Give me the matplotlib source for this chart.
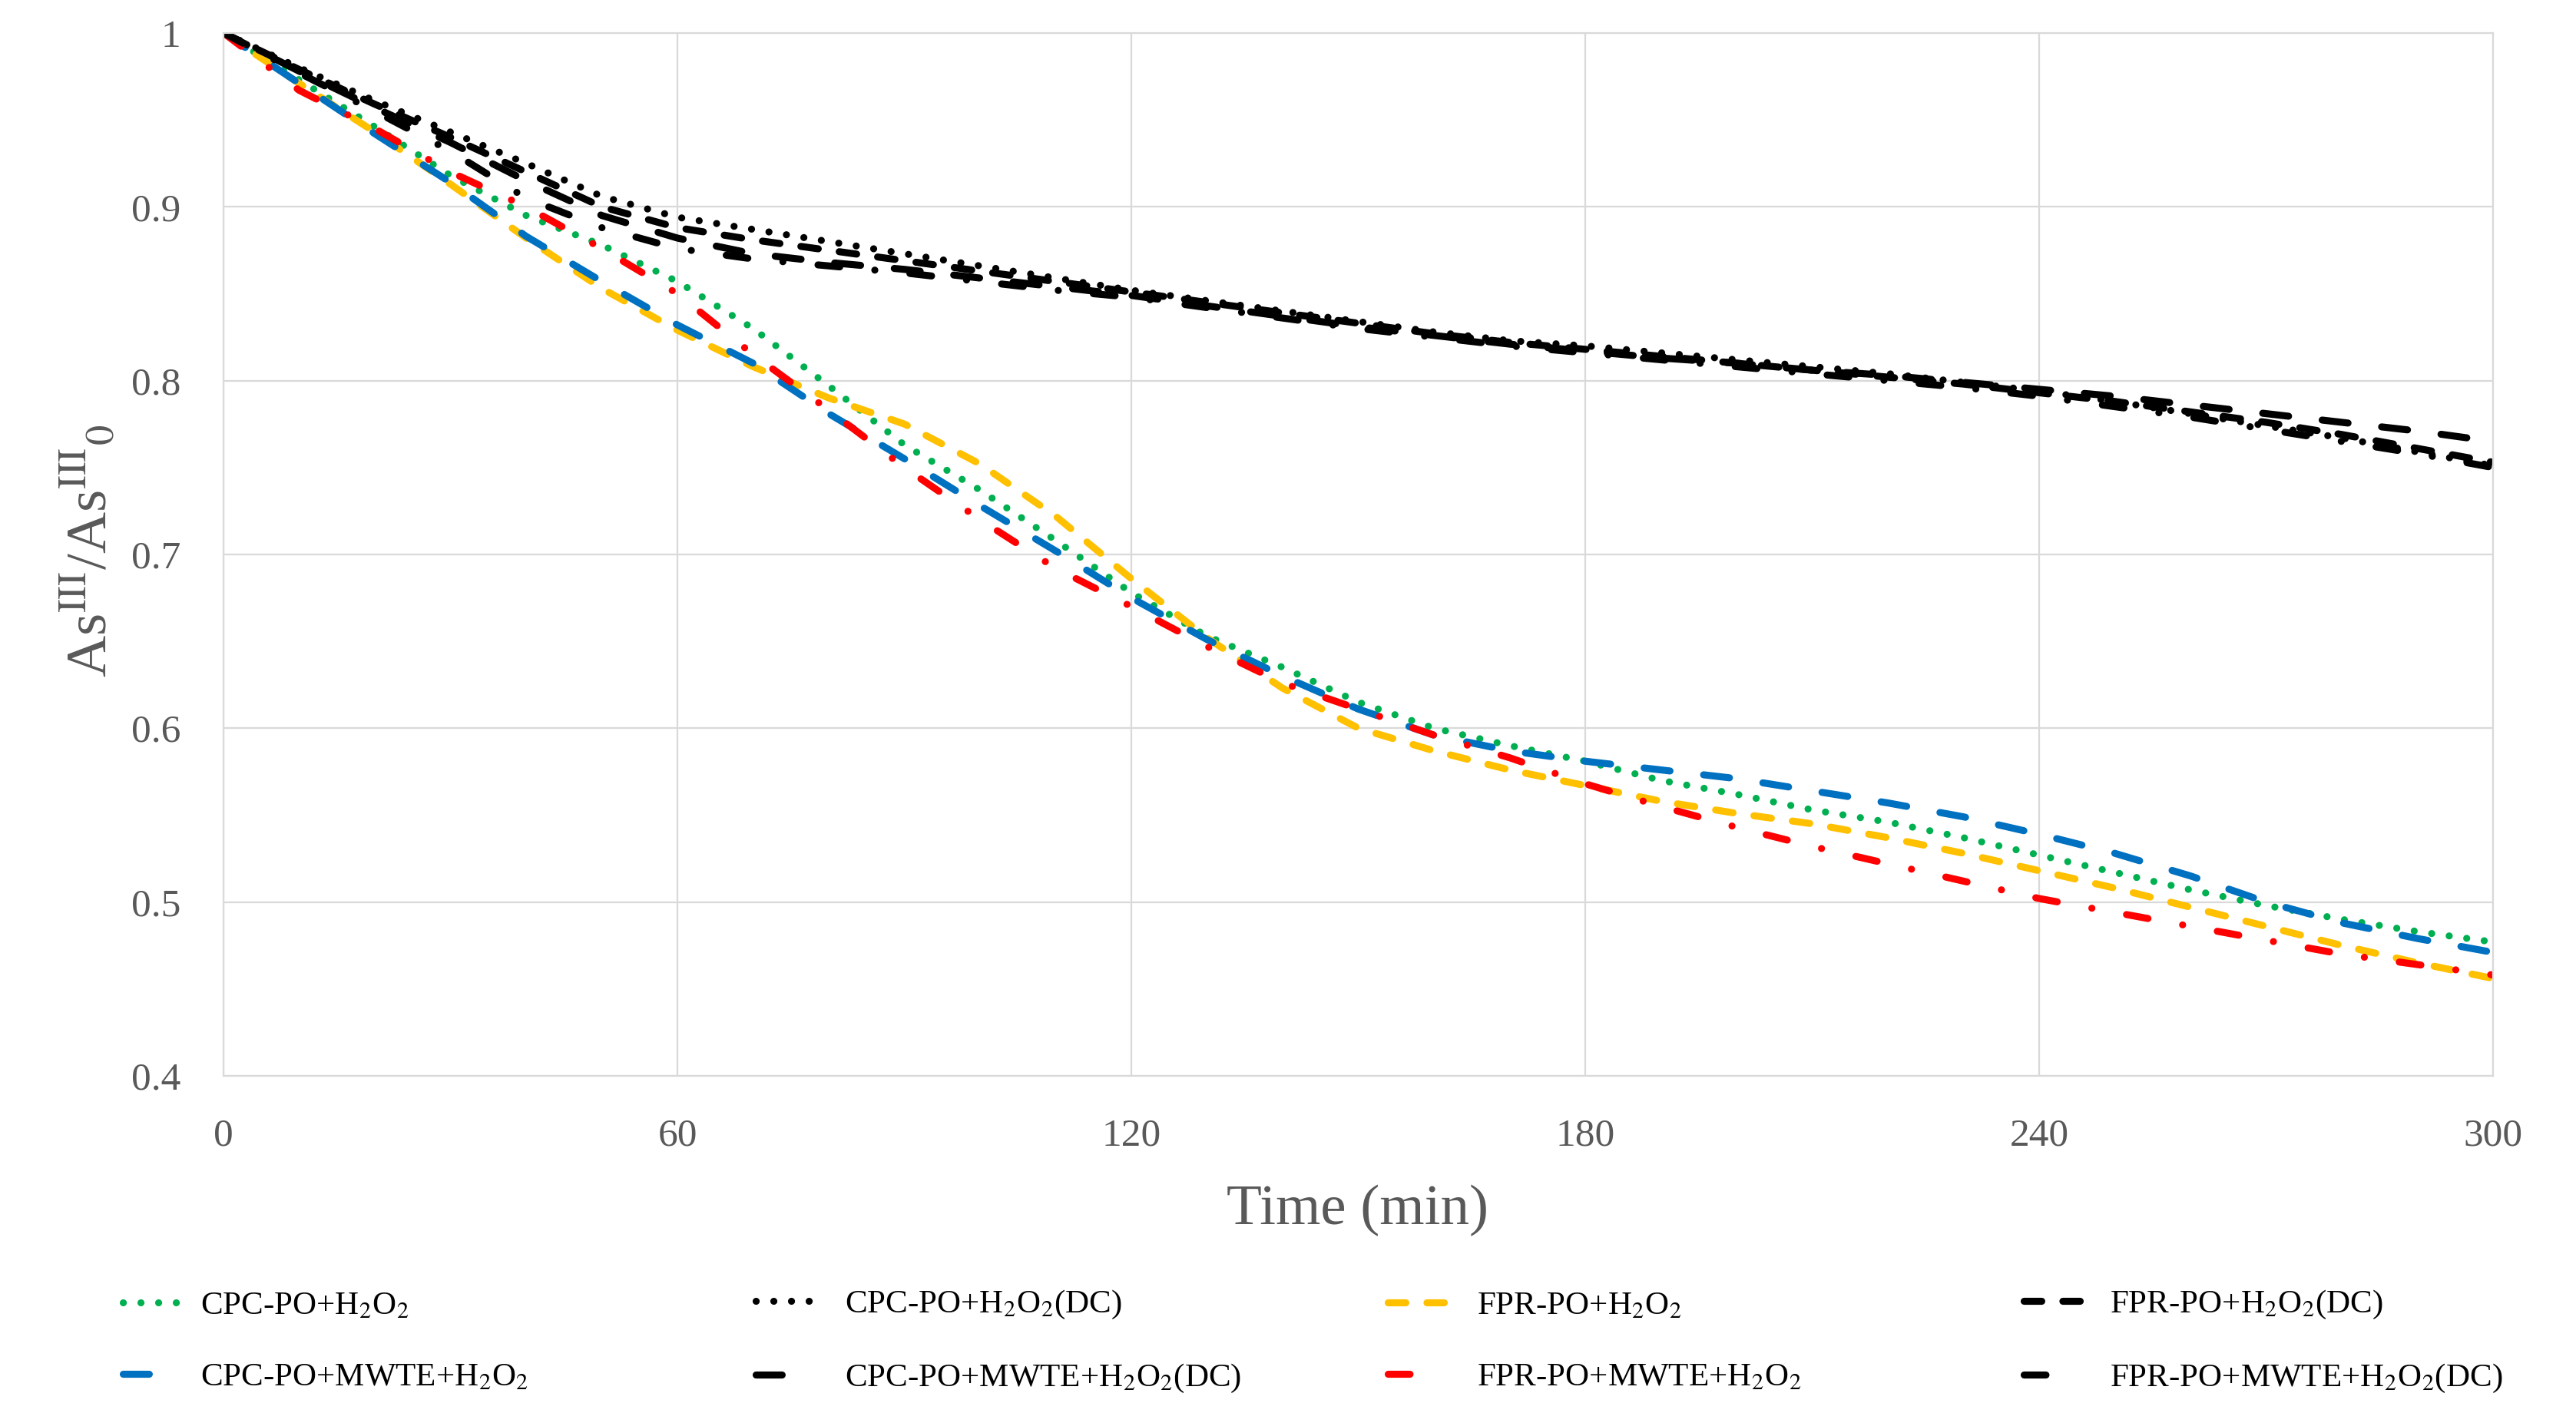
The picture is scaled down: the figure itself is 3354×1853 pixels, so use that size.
import matplotlib
matplotlib.use('Agg')
import matplotlib.pyplot as plt
from matplotlib.font_manager import FontProperties

# time axis (min)
time = list(range(0, 301, 10))

cpc_h2o2 = [1.0, 0.973, 0.946, 0.918, 0.895, 0.878, 0.857, 0.830, 0.797, 0.763, 0.737,
            0.708, 0.678, 0.653, 0.635, 0.615, 0.600, 0.590, 0.581, 0.570, 0.562,
            0.553, 0.546, 0.537, 0.527, 0.517, 0.507, 0.498, 0.490, 0.483, 0.477]
cpc_dc = [1.0, 0.980, 0.961, 0.943, 0.925, 0.906, 0.894, 0.887, 0.880, 0.873, 0.866,
          0.859, 0.852, 0.846, 0.840, 0.834, 0.828, 0.823, 0.820, 0.816, 0.812,
          0.808, 0.804, 0.799, 0.794, 0.788, 0.781, 0.774, 0.767, 0.759, 0.751]
fpr_h2o2 = [1.0, 0.971, 0.943, 0.913, 0.882, 0.853, 0.829, 0.808, 0.790, 0.775, 0.752,
            0.722, 0.686, 0.652, 0.623, 0.600, 0.587, 0.576, 0.567, 0.558, 0.551,
            0.545, 0.537, 0.528, 0.518, 0.508, 0.497, 0.486, 0.475, 0.465, 0.456]
fpr_dc = [1.0, 0.979, 0.959, 0.940, 0.920, 0.900, 0.888, 0.881, 0.875, 0.869, 0.863,
          0.857, 0.851, 0.845, 0.839, 0.833, 0.827, 0.822, 0.818, 0.814, 0.810,
          0.806, 0.802, 0.798, 0.793, 0.788, 0.782, 0.776, 0.769, 0.761, 0.753]
cpc_mwte = [1.0, 0.971, 0.942, 0.914, 0.883, 0.857, 0.832, 0.810, 0.781, 0.755, 0.728,
            0.702, 0.675, 0.651, 0.630, 0.611, 0.596, 0.587, 0.581, 0.576, 0.571,
            0.564, 0.557, 0.549, 0.539, 0.528, 0.515, 0.500, 0.488, 0.479, 0.471]
cpc_mwte_dc = [1.0, 0.978, 0.957, 0.937, 0.915, 0.895, 0.882, 0.873, 0.868, 0.864, 0.859,
               0.854, 0.849, 0.843, 0.837, 0.831, 0.826, 0.821, 0.817, 0.813, 0.810,
               0.806, 0.803, 0.799, 0.795, 0.791, 0.786, 0.781, 0.776, 0.771, 0.765]
fpr_mwte = [1.0, 0.967, 0.945, 0.920, 0.900, 0.876, 0.850, 0.815, 0.783, 0.750, 0.720,
            0.692, 0.670, 0.647, 0.626, 0.611, 0.596, 0.583, 0.568, 0.555, 0.543,
            0.532, 0.522, 0.512, 0.502, 0.494, 0.486, 0.478, 0.470, 0.464, 0.458]
fpr_mwte_dc = [1.0, 0.977, 0.955, 0.932, 0.905, 0.888, 0.876, 0.870, 0.866, 0.862, 0.857,
               0.852, 0.848, 0.842, 0.836, 0.830, 0.825, 0.820, 0.816, 0.812, 0.808,
               0.804, 0.800, 0.796, 0.791, 0.785, 0.779, 0.772, 0.765, 0.758, 0.750]

labels = [
    r'CPC-PO+H$_2$O$_2$',
    r'CPC-PO+H$_2$O$_2$(DC)',
    r'FPR-PO+H$_2$O$_2$',
    r'FPR-PO+H$_2$O$_2$(DC)',
    r'CPC-PO+MWTE+H$_2$O$_2$',
    r'CPC-PO+MWTE+H$_2$O$_2$(DC)',
    r'FPR-PO+MWTE+H$_2$O$_2$',
    r'FPR-PO+MWTE+H$_2$O$_2$(DC)',
]
series = [cpc_h2o2, cpc_dc, fpr_h2o2, fpr_dc, cpc_mwte, cpc_mwte_dc, fpr_mwte, fpr_mwte_dc]
colors = ['#00b050', 'black', '#ffc000', 'black', '#0070c0', 'black', '#ff0000', 'black']

DOT = (0, (0.01, 2.5))
DASH = (0, (2.5, 3.0))
LONG_DASH = (0, (3.7, 4.8))
LONG_DASH_DOT = (0, (3.1, 5.0, 0.01, 5.0))
styles = [DOT, DOT, DASH, DASH, LONG_DASH, LONG_DASH, LONG_DASH_DOT, LONG_DASH_DOT]

GRID = '#d9d9d9'
TXT = '#595959'
SERIF = 'Liberation Serif'

fig = plt.figure(figsize=(16.77, 9.265), dpi=200)
ax = fig.add_axes([0.0868, 0.244, 0.9678 - 0.0868, 0.9768 - 0.244])

lines = []
for y, c, ls, lab in zip(series, colors, styles, labels):
    ln, = ax.plot(time, y, color=c, linestyle=ls, lw=3.3,
                  dash_capstyle='round', label=lab)
    lines.append(ln)

ax.set_xlim(0, 300)
ax.set_ylim(0.4, 1.0)
ax.set_xticks(range(0, 301, 60))
ax.set_yticks([0.4, 0.5, 0.6, 0.7, 0.8, 0.9, 1.0])
ax.set_yticklabels(['0.4', '0.5', '0.6', '0.7', '0.8', '0.9', '1'])
ax.grid(True, color=GRID, lw=0.8)
ax.set_axisbelow(True)
for sp in ax.spines.values():
    sp.set_color(GRID)
    sp.set_linewidth(0.8)
ax.tick_params(length=0, labelsize=18.5, labelcolor=TXT, pad=20)
for t in ax.get_xticklabels() + ax.get_yticklabels():
    t.set_fontfamily(SERIF)

fig.text(0.527, 0.1495, 'Time (min)', ha='center', va='center',
         fontsize=27, color=TXT, family=SERIF)
fig.text(0.035, 0.613, r'As$^{\mathrm{III}}$/As$^{\mathrm{III}}{}_{0}$', rotation=90,
         ha='center', va='center', fontsize=27, color=TXT, family=SERIF,
         math_fontfamily='stix')

# legend: four columns of two entries, like the Excel layout
prop = FontProperties(family=SERIF, size=15.5, math_fontfamily='stix')
col_x = [160, 984, 1807, 2635]
text_pad = [0.64, 1.0, 1.0, 0.9]
pairs = [(0, 4), (1, 5), (2, 6), (3, 7)]
for x, pad, (i, j) in zip(col_x, text_pad, pairs):
    fig.legend([lines[i], lines[j]], [labels[i], labels[j]], prop=prop,
               loc='center left', bbox_to_anchor=(x / 3354, 1 - 1747 / 1853),
               frameon=False, borderpad=0, borderaxespad=0,
               handlelength=1.7, handletextpad=pad, labelspacing=1.25)

fig.savefig('out.png', dpi=200)
